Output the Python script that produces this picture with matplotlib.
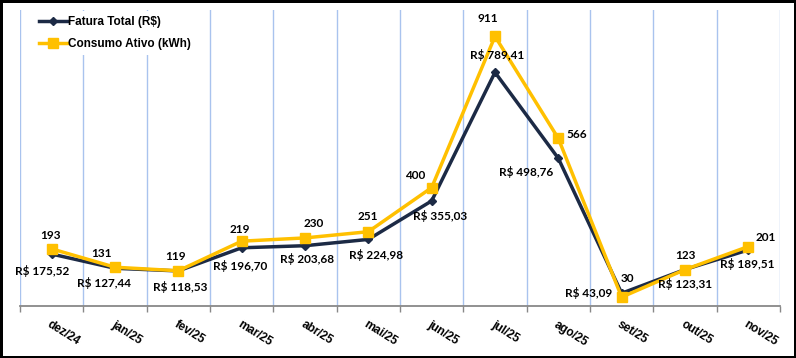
import matplotlib.pyplot as plt
import numpy as np

meses = ['dez/24', 'jan/25', 'fev/25', 'mar/25', 'abr/25', 'mai/25',
         'jun/25', 'jul/25', 'ago/25', 'set/25', 'out/25', 'nov/25']
fatura = [175.52, 127.44, 118.53, 196.70, 203.68, 224.98,
          355.03, 789.41, 498.76, 43.09, 123.31, 189.51]
consumo = [193, 131, 119, 219, 230, 251, 400, 911, 566, 30, 123, 201]

# deslocamento dos rotulos (pixels)
off_fatura = [(-10, -17), (-11, -15), (2, -16), (-2, -18), (2, -13), (8, -16),
              (8, -15), (2, 17), (-32, -14), (-33, 0), (0, -14), (-1, -14)]
off_consumo = [(-1, 13), (-14, 14), (-3, 14), (-2, 12), (9, 14), (-1, 15),
               (-17, 12), (-7, 18), (18, 4), (6, 19), (0, 14), (17, 9)]

azul = '#1C2A45'
amarelo = '#FFC000'
lbl_font = 'Lato'

fig = plt.figure(figsize=(7.96, 3.58), dpi=100, linewidth=2.5, edgecolor='black')
ax = fig.add_axes([20 / 796, 52 / 358, 760 / 796, 296 / 358])

x = np.arange(len(meses))
ax.plot(x, fatura, color=azul, lw=2.5, marker='D', markersize=4.5,
        label='Fatura Total (R$)', zorder=3)
ax.plot(x, consumo, color=amarelo, lw=2.5, marker='s', markersize=7,
        label='Consumo Ativo (kWh)', zorder=4)

for i in range(len(meses)):
    txt = 'R$ ' + f'{fatura[i]:.2f}'.replace('.', ',')
    ax.annotate(txt, (x[i], fatura[i]), xytext=off_fatura[i], textcoords='offset pixels',
                ha='center', va='center', fontsize=8.5, fontweight='bold',
                family=lbl_font, color='black', zorder=5)
    ax.annotate(str(consumo[i]), (x[i], consumo[i]), xytext=off_consumo[i],
                textcoords='offset pixels', ha='center', va='center', fontsize=8.5,
                fontweight='bold', family=lbl_font, color='black', zorder=5)

ax.set_xlim(-0.5, len(meses) - 0.5)
ax.set_ylim(0, 1000)
ax.set_xticks(x)
ax.set_xticklabels(meses, rotation=-32, ha='left', rotation_mode='anchor',
                   fontsize=8.5, fontweight='bold', family='Liberation Sans')
ax.tick_params(axis='x', which='major', length=0, pad=9)
ax.set_xticks(np.arange(len(meses) + 1) - 0.5, minor=True)
ax.tick_params(axis='x', which='minor', length=4, color='#888888', width=1)
ax.grid(axis='x', which='minor', color='#A9C3EE', lw=1)
ax.set_yticks([])
for s in ['top', 'left', 'right']:
    ax.spines[s].set_visible(False)
ax.spines['bottom'].set_color('#888888')
ax.spines['bottom'].set_linewidth(1.3)

leg = ax.legend(loc='upper left', bbox_to_anchor=(34 / 796, 347 / 358),
                bbox_transform=fig.transFigure, frameon=True, framealpha=1,
                edgecolor='none', facecolor='white', borderaxespad=0,
                handlelength=2.4, handletextpad=0.1, labelspacing=0.9,
                prop={'family': 'Liberation Sans', 'weight': 'bold', 'size': 8.5})
leg.set_zorder(6)

plt.savefig('out.png', dpi=100)
